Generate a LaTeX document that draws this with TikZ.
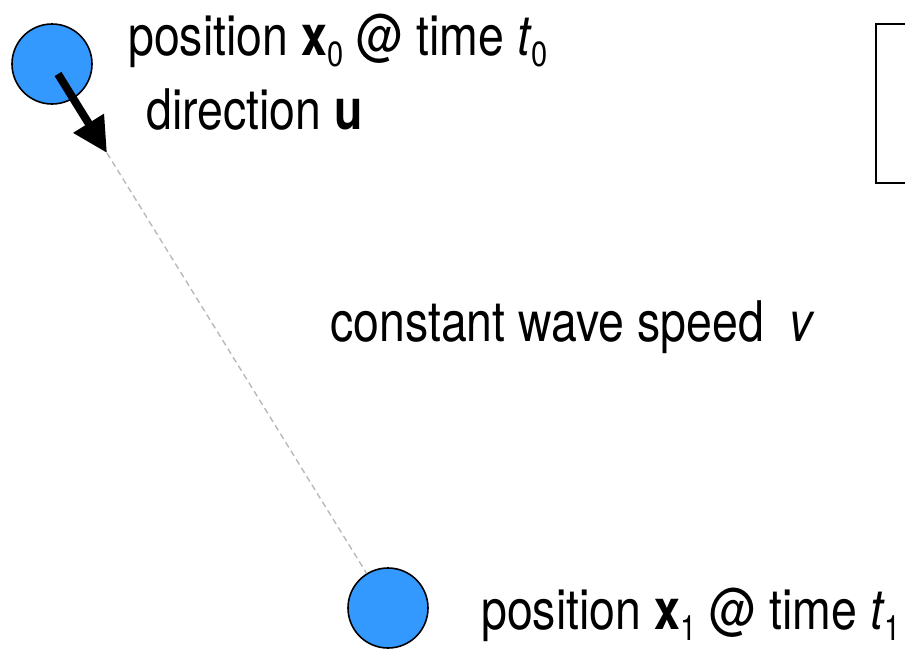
\documentclass[tikz,border=0pt]{standalone}
\usepackage{fontspec}
\setmainfont{TeX Gyre Heros}[FakeStretch=0.83]
\usetikzlibrary{arrows.meta}
\definecolor{ballblue}{RGB}{51,153,255}
\definecolor{pathgray}{RGB}{185,185,185}
\newcommand\lowsub[1]{\raisebox{-0.2em}{\fontsize{35}{35}\selectfont #1}}
\tikzset{
  ball/.style={circle, draw=black, line width=1.6pt, fill=ballblue, minimum size=80pt, inner sep=0pt},
  lbl/.style={anchor=base west, inner sep=0pt, font=\fontsize{56}{62}\selectfont},
  dirarrow/.style={line width=8pt, -{Triangle[length=35pt,width=34pt]}},
  wavepath/.style={draw=pathgray, line width=1.4pt, dash pattern=on 6pt off 4pt},
  frame/.style={draw=black, line width=2pt}
}
\begin{document}
\begin{tikzpicture}[x=1pt,y=-1pt]
  \useasboundingbox (0,0) rectangle (905,648);
  % source and receiver positions
  \node[ball] (p0) at (52,64) {};
  \node[ball] (p1) at (388,608) {};
  % direction vector and straight path between them
  \coordinate (u0) at (58,74);
  \coordinate (utip) at (107,153);
  \draw[wavepath] (utip) -- (p1);
  \draw[dirarrow] (u0) -- (utip);
  % partial frame on the right
  \draw[frame] (876,24) rectangle (930,183);
  % labels
  \node[lbl] (l0) at (128,55) {position \textbf{x}\lowsub{0} @ time \textit{t}\lowsub{0}};
  \node[lbl] (ld) at (146,129) {direction \textbf{u}};
  \node[lbl] (lv) at (330,341) {constant wave speed \ \textit{v}};
  \node[lbl] (l1) at (481,629) {position \textbf{x}\lowsub{1} @ time \textit{t}\lowsub{1}};
\end{tikzpicture}
\end{document}
